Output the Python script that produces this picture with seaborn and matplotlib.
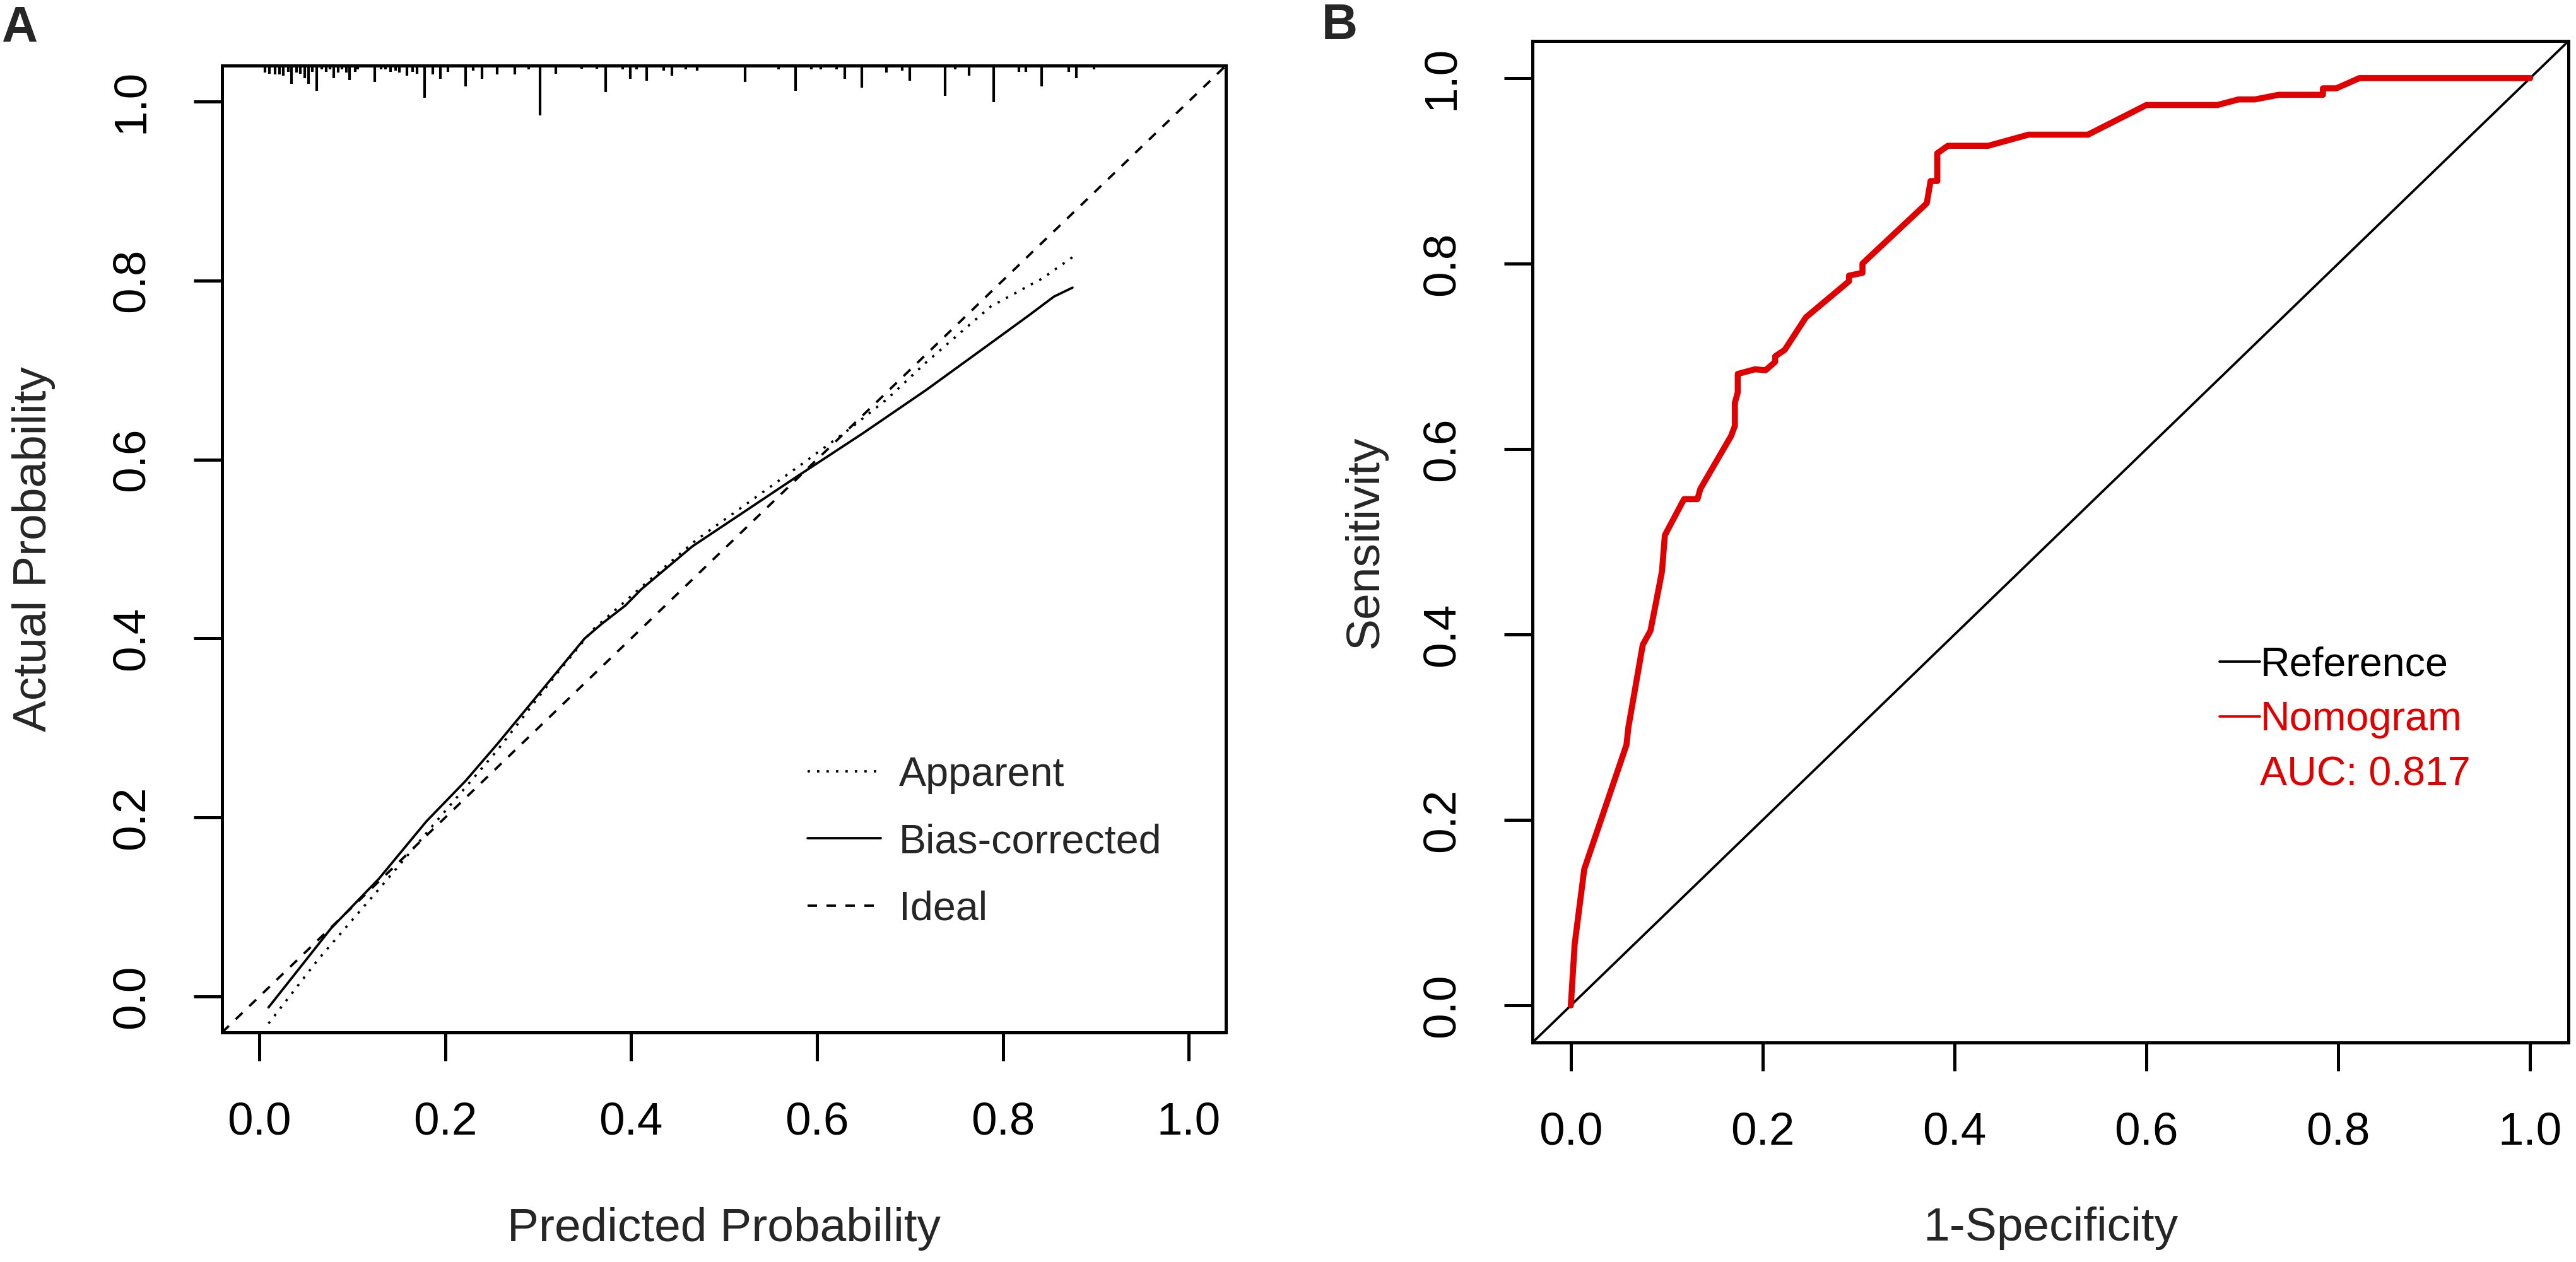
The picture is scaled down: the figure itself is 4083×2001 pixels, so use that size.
import matplotlib
matplotlib.use("Agg")
import matplotlib.pyplot as plt
from matplotlib.lines import Line2D
import numpy as np
import pandas as pd
import seaborn as sns

# ---- panel A: calibration curves ----
app_x = [0.010, 0.063, 0.132, 0.194, 0.256, 0.318, 0.359, 0.415, 0.470, 0.525,
         0.580, 0.635, 0.676, 0.718, 0.787, 0.842, 0.875]
app_y = [-0.030, 0.041, 0.124, 0.200, 0.275, 0.358, 0.410, 0.461, 0.510, 0.551,
         0.592, 0.634, 0.668, 0.709, 0.771, 0.802, 0.826]
bc_x = [0.010, 0.077, 0.129, 0.180, 0.222, 0.256, 0.311, 0.350, 0.368, 0.394,
        0.411, 0.466, 0.518, 0.580, 0.649, 0.718, 0.787, 0.828, 0.855, 0.875]
bc_y = [-0.012, 0.076, 0.132, 0.196, 0.241, 0.282, 0.351, 0.400, 0.416, 0.437,
        0.455, 0.503, 0.539, 0.582, 0.629, 0.678, 0.730, 0.761, 0.782, 0.792]

# rug of predicted probabilities (position, relative frequency)
rug_x = [0.006, 0.011, 0.017, 0.022, 0.026, 0.031, 0.035, 0.040, 0.044, 0.049,
         0.053, 0.057, 0.062, 0.067, 0.072, 0.076, 0.080, 0.085, 0.089, 0.094,
         0.097, 0.103, 0.106, 0.124, 0.131, 0.136, 0.141, 0.147, 0.151, 0.159,
         0.165, 0.170, 0.178, 0.187, 0.195, 0.203, 0.222, 0.230, 0.240, 0.256,
         0.275, 0.290, 0.302, 0.319, 0.347, 0.363, 0.373, 0.391, 0.399, 0.406,
         0.417, 0.435, 0.444, 0.459, 0.471, 0.523, 0.559, 0.577, 0.594, 0.604,
         0.621, 0.630, 0.648, 0.675, 0.692, 0.700, 0.738, 0.749, 0.764, 0.790,
         0.817, 0.825, 0.842, 0.871, 0.879, 0.898]
rug_h = [0.14, 0.16, 0.18, 0.18, 0.20, 0.12, 0.37, 0.14, 0.16, 0.25,
         0.37, 0.12, 0.50, 0.08, 0.12, 0.08, 0.25, 0.14, 0.08, 0.14,
         0.29, 0.12, 0.08, 0.33, 0.08, 0.08, 0.12, 0.10, 0.14, 0.20,
         0.12, 0.16, 0.65, 0.18, 0.27, 0.12, 0.42, 0.10, 0.27, 0.18,
         0.18, 0.08, 1.00, 0.16, 0.06, 0.06, 0.53, 0.08, 0.27, 0.08,
         0.30, 0.10, 0.20, 0.08, 0.10, 0.33, 0.08, 0.50, 0.08, 0.08,
         0.08, 0.27, 0.44, 0.14, 0.10, 0.30, 0.61, 0.08, 0.20, 0.74,
         0.12, 0.12, 0.42, 0.12, 0.25, 0.08]

# ---- panel B: ROC curve ----
roc_fpr = [0.000, 0.004, 0.014, 0.058, 0.060, 0.075, 0.083, 0.090, 0.095, 0.098,
           0.118, 0.132, 0.135, 0.167, 0.171, 0.171, 0.174, 0.174, 0.192, 0.203,
           0.213, 0.213, 0.223, 0.245, 0.290, 0.290, 0.304, 0.304, 0.371, 0.375,
           0.382, 0.382, 0.393, 0.435, 0.477, 0.539, 0.600, 0.674, 0.696, 0.713,
           0.738, 0.784, 0.784, 0.798, 0.822, 1.000]
roc_tpr = [0.000, 0.066, 0.147, 0.281, 0.300, 0.389, 0.404, 0.441, 0.468, 0.507,
           0.546, 0.546, 0.557, 0.614, 0.625, 0.650, 0.661, 0.681, 0.686, 0.685,
           0.694, 0.700, 0.707, 0.742, 0.781, 0.787, 0.790, 0.800, 0.865, 0.889,
           0.889, 0.919, 0.927, 0.927, 0.939, 0.939, 0.971, 0.971, 0.977, 0.977,
           0.982, 0.982, 0.989, 0.989, 1.000, 1.000]

ticks = [0.0, 0.2, 0.4, 0.6, 0.8, 1.0]
auc_text = "AUC: 0.817"
RED = "#E00000"

sns.set_style("white")
plt.rcParams["font.family"] = ["Liberation Sans", "DejaVu Sans"]

fig = plt.figure(figsize=(4083 / 300, 2001 / 300), dpi=300)
axA = fig.add_axes([0.0862, 0.1819, 0.3897, 0.7661])
axB = fig.add_axes([0.5949, 0.1739, 0.4022, 0.7936])


def style_axes(ax):
    ax.set_xlim(-0.04, 1.04)
    ax.set_ylim(-0.04, 1.04)
    ax.set_xticks(ticks)
    ax.set_yticks(ticks)
    ax.set_xticklabels([f"{t:.1f}" for t in ticks])
    ax.set_yticklabels([f"{t:.1f}" for t in ticks], rotation=90, va="center")
    ax.tick_params(direction="out", length=10.8, width=1.2, pad=15.5,
                   labelsize=17.5, colors="black", bottom=True, left=True)
    for s in ax.spines.values():
        s.set_visible(True)
        s.set_color("black")
        s.set_linewidth(1.2)


# panel A
cal = pd.concat([
    pd.DataFrame({"pred": app_x, "obs": app_y, "curve": "Apparent"}),
    pd.DataFrame({"pred": bc_x, "obs": bc_y, "curve": "Bias-corrected"}),
])
sns.lineplot(data=cal, x="pred", y="obs", style="curve", color="black",
             dashes={"Apparent": (1, 3), "Bias-corrected": ""},
             estimator=None, sort=False, linewidth=0.9, legend=False, ax=axA)
axA.axline((0, 0), (1, 1), color="black", linewidth=0.9, dashes=(4, 4))
axA.vlines(rug_x, [1 - 0.0515 * h for h in rug_h], 1.0, color="black",
           linewidth=1.0, transform=axA.get_xaxis_transform(), clip_on=False)
style_axes(axA)
axA.set_xlabel("Predicted Probability", fontsize=18, labelpad=24)
axA.set_ylabel("Actual Probability", fontsize=18, labelpad=21)
handlesA = [
    Line2D([], [], color="black", linewidth=0.9, dashes=(1, 3)),
    Line2D([], [], color="black", linewidth=0.9),
    Line2D([], [], color="black", linewidth=0.9, dashes=(4, 4)),
]
axA.legend(handlesA, ["Apparent", "Bias-corrected", "Ideal"], loc="upper left",
           bbox_to_anchor=(0.583, 0.286), frameon=False, fontsize=15.5,
           handlelength=1.8, handletextpad=0.45, labelspacing=0.72,
           borderpad=0, borderaxespad=0)

# panel B
roc = pd.DataFrame({"fpr": roc_fpr, "tpr": roc_tpr})
axB.axline((0, 0), (1, 1), color="black", linewidth=0.9)
sns.lineplot(data=roc, x="fpr", y="tpr", color=RED, linewidth=2.3,
             estimator=None, sort=False, ax=axB)
style_axes(axB)
axB.set_xlabel("1-Specificity", fontsize=18, labelpad=20)
axB.set_ylabel("Sensitivity", fontsize=18, labelpad=13)
handlesB = [
    Line2D([], [], color="black", linewidth=0.9),
    Line2D([], [], color=RED, linewidth=0.9),
    Line2D([], [], color="none"),
]
legB = axB.legend(handlesB, ["Reference", "Nomogram", auc_text], loc="upper left",
                  bbox_to_anchor=(0.663, 0.396), frameon=False, fontsize=15.5,
                  handlelength=1.0, handletextpad=0.0, labelspacing=0.42,
                  borderpad=0, borderaxespad=0)
for txt, c in zip(legB.get_texts(), ["black", RED, RED]):
    txt.set_color(c)

fig.text(31 / 4083, 1 - 45 / 2001, "A", fontsize=19, fontweight="bold",
         ha="center", va="center")
fig.text(2123 / 4083, 1 - 42 / 2001, "B", fontsize=19, fontweight="bold",
         ha="center", va="center")

fig.savefig("out.png", dpi=300, facecolor="white")
